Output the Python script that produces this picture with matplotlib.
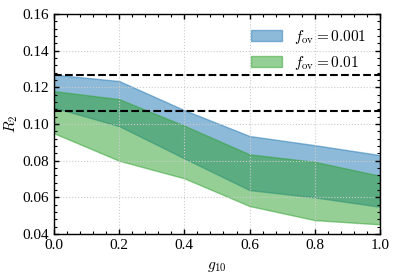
import matplotlib
matplotlib.use("Agg")
import matplotlib.pyplot as plt
from matplotlib.ticker import AutoMinorLocator, MultipleLocator

plt.rcParams['font.family'] = ['Liberation Serif', 'DejaVu Serif']
plt.rcParams['mathtext.fontset'] = 'cm'
plt.rcParams['font.size'] = 11

g10 = [0.0, 0.2, 0.4, 0.6, 0.8, 1.0]
blue_upper = [0.127, 0.1235, 0.1076, 0.0935, 0.0885, 0.0831]
blue_lower = [0.109, 0.0989, 0.0813, 0.064, 0.060, 0.0549]
green_upper = [0.118, 0.1136, 0.0991, 0.0835, 0.0794, 0.0718]
green_lower = [0.095, 0.080, 0.0704, 0.0553, 0.0476, 0.0453]
hlines = [0.127, 0.107]
labels = [r'$f_{\rm ov} = 0.001$', r'$f_{\rm ov} = 0.01$']

fig = plt.figure(figsize=(3.97, 2.77), dpi=100)
ax = fig.add_axes([0.136, 0.155, 0.821, 0.794])

ax.fill_between(g10, blue_lower, blue_upper, color='tab:blue', alpha=0.5, label=labels[0])
ax.fill_between(g10, green_lower, green_upper, color='tab:green', alpha=0.5, label=labels[1])
for h in hlines:
    ax.axhline(h, color='black', ls='--', lw=1.5)

ax.set_xlim(0, 1)
ax.set_ylim(0.04, 0.16)
ax.xaxis.set_major_locator(MultipleLocator(0.2))
ax.yaxis.set_major_locator(MultipleLocator(0.02))
ax.xaxis.set_minor_locator(AutoMinorLocator(5))
ax.yaxis.set_minor_locator(AutoMinorLocator(5))
ax.tick_params(which='both', direction='in', top=True, right=True, labelsize=11)
ax.tick_params(which='major', length=3.5, width=1.0)
ax.tick_params(which='minor', length=2, width=0.8)
for s in ax.spines.values():
    s.set_linewidth(1.0)
ax.grid(True, which='major', color='#cccccc', ls=':', lw=0.8)
ax.set_xlabel(r'$g_{10}$', fontsize=11, labelpad=6)
ax.set_ylabel(r'$R_2$', fontsize=11, labelpad=2)
ax.legend(loc='upper right', frameon=False, fontsize=11, handlelength=2.0)

fig.savefig('out.png', dpi=100)
